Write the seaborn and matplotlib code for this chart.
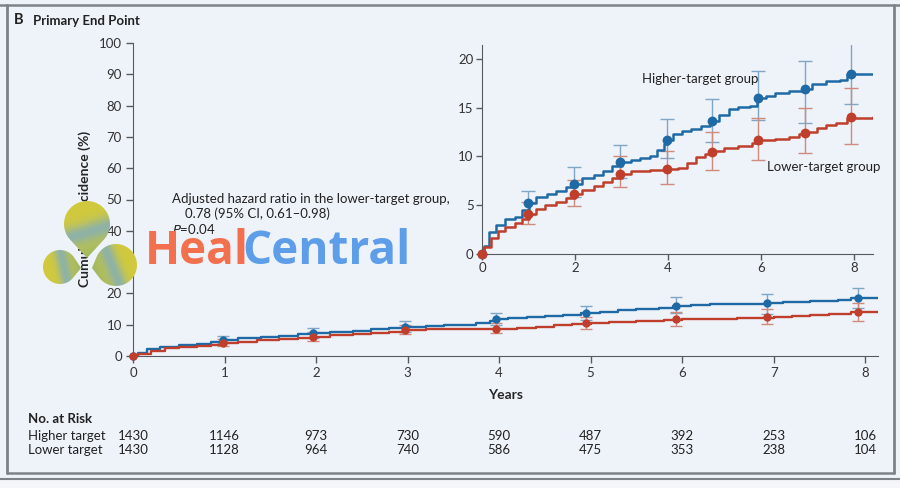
import matplotlib
matplotlib.use('Agg')
import matplotlib.pyplot as plt
import seaborn as sns
import numpy as np
from matplotlib.patches import Rectangle, Polygon
from matplotlib.lines import Line2D
import matplotlib.transforms as mtransforms

# cumulative incidence step curves (years, %)
higher_t = [0, 0.05, 0.15, 0.3, 0.5, 0.7, 0.85, 1.0, 1.15, 1.4, 1.6, 1.8, 2.0, 2.15, 2.4, 2.6, 2.8,
            3.0, 3.2, 3.4, 3.6, 3.75, 3.9, 4.0, 4.1, 4.3, 4.5, 4.7, 4.9, 5.1, 5.3, 5.5, 5.75, 5.9,
            6.1, 6.3, 6.6, 6.9, 7.1, 7.4, 7.7, 7.85, 8.4]
higher_y = [0, 0.8, 2.3, 3.0, 3.6, 3.8, 4.5, 5.2, 5.8, 6.1, 6.5, 6.9, 7.2, 7.8, 8.1, 8.5, 9.0,
            9.4, 9.6, 9.8, 10.0, 10.6, 11.3, 11.7, 12.3, 12.6, 12.8, 13.1, 13.6, 14.2, 14.8, 15.1, 15.2, 16.0,
            16.2, 16.5, 16.7, 16.9, 17.4, 17.7, 17.8, 18.4, 18.4]
lower_t = [0, 0.05, 0.2, 0.35, 0.5, 0.7, 0.85, 1.0, 1.15, 1.35, 1.6, 1.8, 2.0, 2.15, 2.4, 2.6, 2.8,
           3.0, 3.2, 3.6, 3.9, 4.2, 4.4, 4.6, 4.8, 5.0, 5.2, 5.5, 5.8, 6.0, 6.3, 6.6, 6.8, 7.0,
           7.2, 7.4, 7.6, 7.85, 8.4]
lower_y = [0, 0.7, 1.6, 2.4, 2.8, 3.2, 3.6, 4.1, 4.6, 5.0, 5.3, 5.7, 6.1, 6.6, 7.0, 7.4, 7.8,
           8.2, 8.5, 8.6, 8.7, 8.8, 9.3, 9.9, 10.2, 10.5, 10.9, 11.1, 11.4, 11.7, 11.8, 12.0, 12.3, 12.5,
           12.9, 13.2, 13.4, 13.9, 14.0]

# yearly point estimates with 95% CI
mark_t = [0, 0.98, 1.97, 2.97, 3.97, 4.95, 5.93, 6.93, 7.92]
higher_pt = [0, 5.2, 7.2, 9.4, 11.7, 13.6, 16.0, 16.9, 18.4]
higher_lo = [0, 4.0, 5.8, 7.8, 9.8, 11.5, 13.7, 13.4, 15.4]
higher_hi = [0, 6.5, 8.9, 11.2, 13.8, 15.9, 18.7, 19.8, 21.8]
lower_pt = [0, 4.1, 6.1, 8.2, 8.7, 10.4, 11.7, 12.4, 14.0]
lower_lo = [0, 3.1, 4.9, 6.9, 7.2, 8.6, 9.6, 10.3, 11.3]
lower_hi = [0, 5.3, 7.6, 10.0, 10.5, 12.5, 13.9, 15.0, 17.0]

years = [0, 1, 2, 3, 4, 5, 6, 7, 8]
risk_higher = [1430, 1146, 973, 730, 590, 487, 392, 253, 106]
risk_lower = [1430, 1128, 964, 740, 586, 475, 353, 238, 104]

BG = '#eef3fa'
BLUE = '#1f6aa5'
RED = '#bf3f2c'
BLUE_EB = '#7fa6c4'
RED_EB = '#d08a7c'
AXC = '#555a60'

sns.set_style('ticks')
plt.rcParams['font.family'] = ['Lato', 'DejaVu Sans']
plt.rcParams['axes.edgecolor'] = AXC
plt.rcParams['xtick.color'] = AXC
plt.rcParams['ytick.color'] = AXC
plt.rcParams['text.color'] = '#222222'
plt.rcParams['xtick.labelcolor'] = '#333333'
plt.rcParams['ytick.labelcolor'] = '#333333'

fig = plt.figure(figsize=(9, 4.88), dpi=100)
fig.patch.set_facecolor(BG)


def draw_curves(ax, lw, ms, cap):
    for t, y, pt, lo, hi, c, ec in [
            (higher_t, higher_y, higher_pt, higher_lo, higher_hi, BLUE, BLUE_EB),
            (lower_t, lower_y, lower_pt, lower_lo, lower_hi, RED, RED_EB)]:
        ax.errorbar(mark_t[1:], pt[1:],
                    yerr=[[p - l for p, l in zip(pt[1:], lo[1:])], [h - p for p, h in zip(pt[1:], hi[1:])]],
                    fmt='none', ecolor=ec, elinewidth=1.0, capsize=cap, capthick=1.0, zorder=2)
        sns.lineplot(x=t, y=y, ax=ax, color=c, lw=lw, drawstyle='steps-post',
                     estimator=None, sort=False, zorder=3)
        sns.scatterplot(x=mark_t, y=pt, ax=ax, color=c, s=ms, edgecolor=c, linewidth=0,
                        zorder=4, clip_on=False)


# main axes
ax = fig.add_axes([133 / 900, 1 - 356 / 488, 745 / 900, 313 / 488])
ax.set_facecolor(BG)
draw_curves(ax, 1.7, 36, 4)
ax.set_xlim(0, 8.14)
ax.set_ylim(0, 100)
ax.set_xticks(years)
ax.set_yticks(range(0, 101, 10))
sns.despine(ax=ax)
ax.tick_params(labelsize=9.5, length=5, width=1, pad=3)
ax.set_xlabel('Years', fontsize=10, fontweight='bold', labelpad=7)
ax.set_ylabel('Cumulative Incidence (%)', fontsize=10, fontweight='bold')
ax.yaxis.set_label_coords(-0.056, 0.47)
ax.text(0.43, 50.2, 'Adjusted hazard ratio in the lower-target group,', fontsize=9.5, va='center')
ax.text(0.57, 45.5, '0.78 (95% CI, 0.61\u20130.98)', fontsize=9.5, va='center')
ax.text(0.43, 40.7, '$\\it{P}$=0.04', fontsize=9.5, va='center')

# inset axes
ins = fig.add_axes([482 / 900, 1 - 254 / 488, 391 / 900, 209 / 488])
ins.set_facecolor(BG)
draw_curves(ins, 1.8, 50, 5)
ins.set_xlim(0, 8.4)
ins.set_ylim(0, 21.4)
ins.set_xticks([0, 2, 4, 6, 8])
ins.set_yticks([0, 5, 10, 15, 20])
sns.despine(ax=ins)
ins.tick_params(labelsize=9.5, length=4, width=1, pad=2)
ins.set_xlabel('')
ins.set_ylabel('')
ins.text(3.43, 17.9, 'Higher-target group', fontsize=9.5, va='center')
ins.text(6.12, 8.9, 'Lower-target group', fontsize=9.5, va='center')

# number at risk table
trans = mtransforms.blended_transform_factory(ax.transData, fig.transFigure)
fig.text(28 / 900, 1 - 419 / 488, 'No. at Risk', fontsize=9.5, fontweight='bold', va='center')
fig.text(28 / 900, 1 - 436 / 488, 'Higher target', fontsize=9.5, va='center')
fig.text(28 / 900, 1 - 450 / 488, 'Lower target', fontsize=9.5, va='center')
for yr, h, l in zip(years, risk_higher, risk_lower):
    fig.text(yr, 1 - 436 / 488, str(h), transform=trans, fontsize=9.5, ha='center', va='center')
    fig.text(yr, 1 - 450 / 488, str(l), transform=trans, fontsize=9.5, ha='center', va='center')

# overlay in pixel coordinates: frame, title, watermark
ov = fig.add_axes([0, 0, 1, 1], zorder=10)
ov.patch.set_alpha(0)
ov.axis('off')
ov.add_patch(Rectangle((0, 478), 900, 10, facecolor='#f4f6f8', edgecolor='none'))
ov.add_line(Line2D([7, 7], [5, 473], color='#7d8288', lw=2))
ov.add_line(Line2D([894, 894], [5, 473], color='#7d8288', lw=2))
ov.add_line(Line2D([0, 900], [5, 5], color='#7d8288', lw=1.8))
ov.add_line(Line2D([7, 894], [473, 473], color='#7d8288', lw=1.8))
ov.add_line(Line2D([0, 900], [479, 479], color='#7d8288', lw=1.5))
ov.text(14, 20, 'B', fontsize=10.5, fontweight='bold', va='center')
ov.text(33, 21, 'Primary End Point', fontsize=9.5, fontweight='bold', va='center')

# watermark logo: three teardrop lobes, yellow with a soft blue band
yellow = np.array([0.82, 0.79, 0.24])
green = np.array([0.62, 0.72, 0.40])
blue = np.array([0.42, 0.65, 0.87])
for (cx, cy), r, (tx, ty) in [((87, 224), 23, (87, 258)),
                              ((60, 267), 17, (81, 268)),
                              ((116, 265), 21, (92, 268))]:
    d = np.hypot(tx - cx, ty - cy)
    base = np.arctan2(ty - cy, tx - cx)
    half = np.pi / 2 - np.arcsin(min(r / d, 0.99))
    ang = np.linspace(base + half, base + 2 * np.pi - half, 60)
    pts = np.column_stack([cx + r * np.cos(ang), cy + r * np.sin(ang)])
    pts = np.vstack([pts, [tx, ty]])
    poly = Polygon(pts, closed=True, facecolor='none', edgecolor='none')
    ov.add_patch(poly)
    x0, x1 = pts[:, 0].min(), pts[:, 0].max()
    y0, y1 = pts[:, 1].min(), pts[:, 1].max()
    gx, gy = np.meshgrid(np.linspace(x0, x1, 80), np.linspace(y0, y1, 80))
    ux, uy = (tx - cx) / d, (ty - cy) / d
    proj = ((gx - cx) * ux + (gy - cy) * uy + r) / (d + r) + 0.12 * ((gx - cx) * uy - (gy - cy) * ux) / r
    band = np.exp(-((proj - 0.55) / 0.18) ** 2)[..., None]
    tipw = np.clip((proj - 0.55) / 0.45, 0, 1)[..., None]
    img = yellow * (1 - tipw) + green * tipw
    img = img * (1 - 0.65 * band) + blue * 0.65 * band
    im = ov.imshow(np.clip(img, 0, 1), extent=(x0, x1, y1, y0), origin='upper', aspect='auto',
                   interpolation='bilinear', zorder=2)
    im.set_clip_path(poly)
ov.text(145, 252, 'Heal', fontsize=33, fontweight='bold', color='#f3704e', va='center',
        family=['Open Sans', 'DejaVu Sans'])
ov.text(242, 252, 'Central', fontsize=33, fontweight='bold', color='#5e9ee8', va='center',
        family=['Open Sans', 'DejaVu Sans'])
ov.set_xlim(0, 900)
ov.set_ylim(488, 0)

fig.savefig('out.png', dpi=100, facecolor=BG)
